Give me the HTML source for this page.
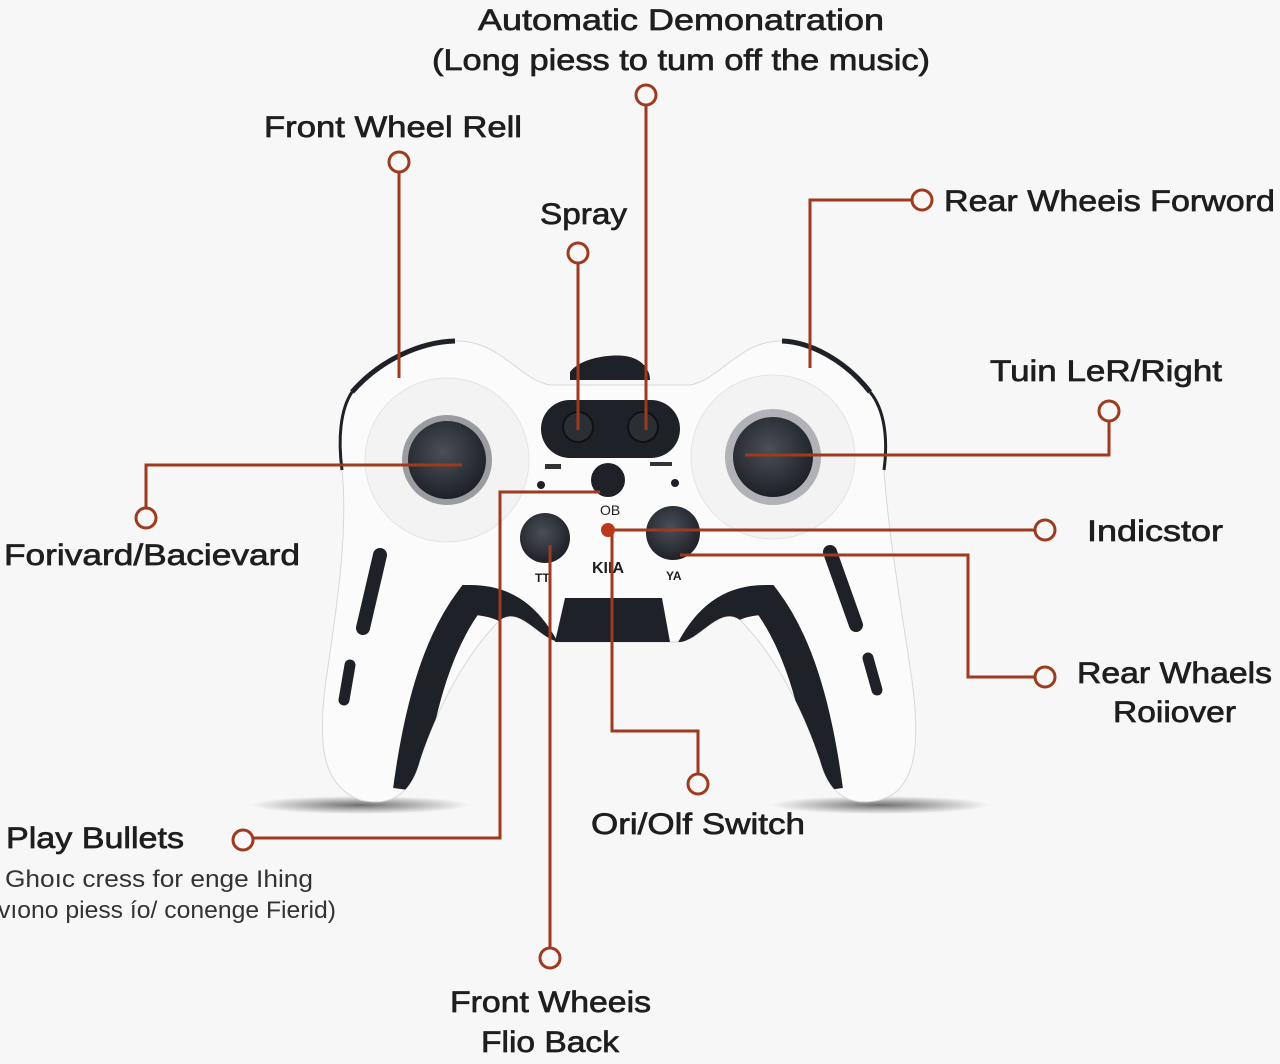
<!DOCTYPE html>
<html><head><meta charset="utf-8"><style>
html,body{margin:0;padding:0;background:#f7f7f7;}
svg{display:block}
text{font-family:"Liberation Sans",sans-serif;fill:#1e1e1e;}
.l{font-size:30px;stroke:#1e1e1e;stroke-width:0.7px;}
.s{font-size:24px;fill:#333;}
</style></head><body>
<svg width="1280" height="1064" viewBox="0 0 1280 1064">
<rect width="1280" height="1064" fill="#f7f7f7"/>
<defs>
<radialGradient id="sh" cx="50%" cy="50%" r="50%"><stop offset="0" stop-color="#000" stop-opacity=".55"/><stop offset="1" stop-color="#000" stop-opacity="0"/></radialGradient>
<radialGradient id="js" cx="45%" cy="40%" r="60%"><stop offset="0" stop-color="#4a4f58"/><stop offset="1" stop-color="#1e2127"/></radialGradient>
<clipPath id="bc"><path id="bp" d="M455,341 C420,342 380,360 352,392 C338,410 338,440 342,470 C348,530 338,600 326,680 C318,740 320,785 360,800 C395,808 412,790 420,760 C440,700 470,650 500,620 C520,605 540,640 560,642 L680,642 C700,640 720,605 740,620 C770,650 800,700 820,760 C828,790 845,808 880,800 C918,790 920,740 912,680 C900,600 888,530 884,470 C888,440 885,410 870,392 C845,360 810,342 782,341 C740,340 720,380 690,385 L550,385 C520,380 500,340 455,341 Z"/></clipPath>
</defs>
<ellipse cx="360" cy="805" rx="110" ry="9" fill="url(#sh)"/>
<ellipse cx="880" cy="805" rx="110" ry="9" fill="url(#sh)"/>
<path d="M455,341 C420,342 380,360 352,392 C338,410 338,440 342,470 C348,530 338,600 326,680 C318,740 320,785 360,800 C395,808 412,790 420,760 C440,700 470,650 500,620 C520,605 540,640 560,642 L680,642 C700,640 720,605 740,620 C770,650 800,700 820,760 C828,790 845,808 880,800 C918,790 920,740 912,680 C900,600 888,530 884,470 C888,440 885,410 870,392 C845,360 810,342 782,341 C740,340 720,380 690,385 L550,385 C520,380 500,340 455,341 Z" fill="#fbfbfb" stroke="#d8d8d8" stroke-width="1"/>
<g clip-path="url(#bc)">
<path d="M545,650 C525,612 500,600 470,600 C440,640 420,700 408,790" fill="none" stroke="#1e2127" stroke-width="30"/>
<path d="M691,650 C711,612 736,600 766,600 C796,640 816,700 828,790" fill="none" stroke="#1e2127" stroke-width="30"/>
</g>
<path d="M352,392 C380,360 420,342 455,341" fill="none" stroke="#1e2127" stroke-width="5"/>
<path d="M870,392 C845,360 810,342 782,341" fill="none" stroke="#1e2127" stroke-width="5"/>
<path d="M342,470 C338,440 340,410 352,392" fill="none" stroke="#1e2127" stroke-width="3"/>
<path d="M884,470 C888,440 885,410 870,392" fill="none" stroke="#1e2127" stroke-width="3"/>
<path d="M570,372 C580,358 610,354 625,356 C640,358 650,368 650,380 L570,380 Z" fill="#1e2127"/>
<circle cx="447" cy="460" r="82" fill="#f3f3f3" stroke="#e4e4e4"/>
<circle cx="773" cy="457" r="82" fill="#f3f3f3" stroke="#e4e4e4"/>
<circle cx="447" cy="460" r="45" fill="#9a9ca0"/>
<circle cx="447" cy="460" r="39" fill="url(#js)"/>
<circle cx="773" cy="457" r="48" fill="#b0b2b6"/>
<circle cx="773" cy="457" r="40" fill="url(#js)"/>
<rect x="541" y="400" width="139" height="58" rx="29" fill="#1e2127"/>
<circle cx="578" cy="427" r="15" fill="#2b2e35" stroke="#111" stroke-width="2"/>
<circle cx="643" cy="427" r="15" fill="#2b2e35" stroke="#111" stroke-width="2"/>
<circle cx="608" cy="480" r="17" fill="#1e2127"/>
<circle cx="541" cy="485" r="4" fill="#1e2127"/>
<circle cx="675" cy="483" r="4" fill="#1e2127"/>
<rect x="545" y="464" width="16" height="5" fill="#333"/>
<rect x="650" y="462" width="22" height="4" fill="#333"/>
<text x="600" y="515" style="font-size:14px">OB</text>
<circle cx="545" cy="538" r="25" fill="url(#js)"/>
<circle cx="673" cy="533" r="27" fill="url(#js)"/>
<text x="592" y="573" style="font-size:16px;font-weight:bold">KIIA</text>
<text x="535" y="582" style="font-size:12px;font-weight:bold">TT</text>
<text x="666" y="580" style="font-size:12px;font-weight:bold">YA</text>
<path d="M565,598 L662,598 L670,642 L555,642 Z" fill="#1e2127"/>
<line x1="380" y1="555" x2="363" y2="628" stroke="#1e2127" stroke-width="14" stroke-linecap="round"/>
<line x1="350" y1="665" x2="344" y2="700" stroke="#1e2127" stroke-width="11" stroke-linecap="round"/>
<line x1="830" y1="552" x2="856" y2="625" stroke="#1e2127" stroke-width="14" stroke-linecap="round"/>
<line x1="868" y1="658" x2="877" y2="690" stroke="#1e2127" stroke-width="11" stroke-linecap="round"/>
<g fill="none" stroke="#9e3a1e" stroke-width="3">
<path d="M646,105 V430"/><circle cx="646" cy="95" r="10"/>
<path d="M399,172 V378"/><circle cx="399" cy="162" r="10"/>
<path d="M578,263 V430"/><circle cx="578" cy="253" r="10"/>
<path d="M912,200 H810 V368"/><circle cx="922" cy="200" r="10"/>
<path d="M1109,421 V455 H745"/><circle cx="1109" cy="411" r="10"/>
<path d="M146,508 V465 H462"/><circle cx="146" cy="518" r="10"/>
<path d="M1035,530 H610"/><circle cx="1045" cy="530" r="10"/>
<path d="M1035,677 H968 V555 H680"/><circle cx="1045" cy="677" r="10"/>
<path d="M698,774 V731 H612 V530"/><circle cx="698" cy="784" r="10"/>
<path d="M253,838 H500 V492 H600"/><circle cx="243" cy="840" r="10"/>
<path d="M550,948 V545"/><circle cx="550" cy="958" r="10"/>
</g>
<circle cx="608" cy="530" r="7" fill="#b8391c"/>
<text class="l" x="478" y="30" textLength="406" lengthAdjust="spacingAndGlyphs">Automatic Demonatration</text>
<text class="l" x="432" y="70" textLength="498" lengthAdjust="spacingAndGlyphs">(Long piess to tum off the music)</text>
<text class="l" x="264" y="137" textLength="258" lengthAdjust="spacingAndGlyphs">Front Wheel Rell</text>
<text class="l" x="540" y="224" textLength="87" lengthAdjust="spacingAndGlyphs">Spray</text>
<text class="l" x="944" y="211" textLength="331" lengthAdjust="spacingAndGlyphs">Rear Wheeis Forword</text>
<text class="l" x="990" y="381" textLength="232" lengthAdjust="spacingAndGlyphs">Tuin LeR/Right</text>
<text class="l" x="4" y="565" textLength="296" lengthAdjust="spacingAndGlyphs">Forivard/Bacievard</text>
<text class="l" x="1087" y="541" textLength="136" lengthAdjust="spacingAndGlyphs">Indicstor</text>
<text class="l" x="1077" y="683" textLength="195" lengthAdjust="spacingAndGlyphs">Rear Whaels</text>
<text class="l" x="1113" y="722" textLength="123" lengthAdjust="spacingAndGlyphs">Roiiover</text>
<text class="l" x="6" y="848" textLength="178" lengthAdjust="spacingAndGlyphs">Play Bullets</text>
<text class="s" x="5" y="887" textLength="308" lengthAdjust="spacingAndGlyphs">Ghoıc cress for enge Ihing</text>
<text class="s" x="-2" y="918" textLength="338" lengthAdjust="spacingAndGlyphs">vıono piess ío/ conenge Fierid)</text>
<text class="l" x="591" y="834" textLength="214" lengthAdjust="spacingAndGlyphs">Ori/Olf Switch</text>
<text class="l" x="450" y="1012" textLength="201" lengthAdjust="spacingAndGlyphs">Front Wheeis</text>
<text class="l" x="481" y="1052" textLength="138" lengthAdjust="spacingAndGlyphs">Flio Back</text>
</svg>
</body></html>
